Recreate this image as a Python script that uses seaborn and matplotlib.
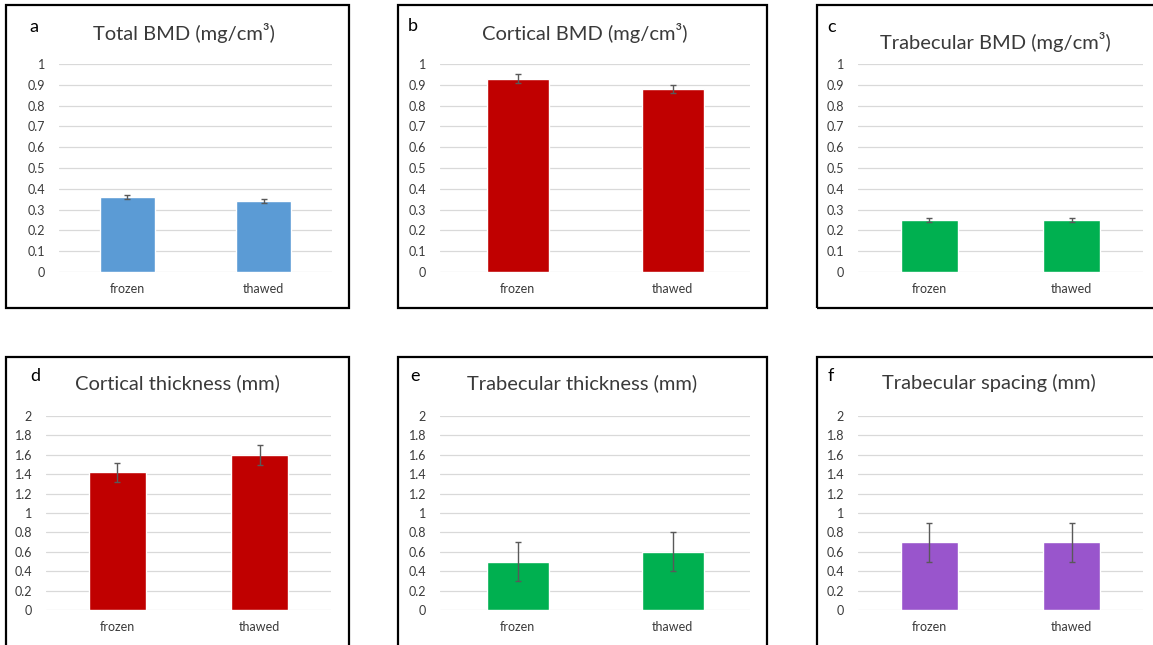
import numpy as np
import pandas as pd
import seaborn as sns
import matplotlib.pyplot as plt
from matplotlib.patches import Rectangle

# Data
groups = ['frozen', 'thawed']

total_bmd = [0.36, 0.34]
total_bmd_err = [0.01, 0.01]
cortical_bmd = [0.93, 0.88]
cortical_bmd_err = [0.02, 0.02]
trabecular_bmd = [0.25, 0.25]
trabecular_bmd_err = [0.01, 0.01]
cortical_thickness = [1.42, 1.60]
cortical_thickness_err = [0.10, 0.10]
trabecular_thickness = [0.50, 0.60]
trabecular_thickness_err = [0.20, 0.20]
trabecular_spacing = [0.70, 0.70]
trabecular_spacing_err = [0.20, 0.20]

bmd_ticks = [0, 0.1, 0.2, 0.3, 0.4, 0.5, 0.6, 0.7, 0.8, 0.9, 1]
mm_ticks = [0, 0.2, 0.4, 0.6, 0.8, 1, 1.2, 1.4, 1.6, 1.8, 2]

titles = ['Total BMD (mg/cm³)', 'Cortical BMD (mg/cm³)', 'Trabecular BMD (mg/cm³)',
          'Cortical thickness (mm)', 'Trabecular thickness (mm)', 'Trabecular spacing (mm)']
letters = ['a', 'b', 'c', 'd', 'e', 'f']

BLUE, RED, GREEN, PURPLE = '#5B9BD5', '#C00000', '#00B050', '#9955CC'

panels = [
    (total_bmd, total_bmd_err, BLUE, bmd_ticks),
    (cortical_bmd, cortical_bmd_err, RED, bmd_ticks),
    (trabecular_bmd, trabecular_bmd_err, GREEN, bmd_ticks),
    (cortical_thickness, cortical_thickness_err, RED, mm_ticks),
    (trabecular_thickness, trabecular_thickness_err, GREEN, mm_ticks),
    (trabecular_spacing, trabecular_spacing_err, PURPLE, mm_ticks),
]

# Layout in pixels of the 1153x645 image
W, H = 1153, 645
boxes = [(6, 5, 349, 308), (398, 5, 767, 308), (817, 5, 1170, 308),
         (6, 357, 349, 660), (398, 357, 767, 660), (817, 357, 1170, 660)]
plot_areas = [(59, 332, 64, 272), (440, 750, 64, 272), (858, 1143, 64, 272),
              (46, 331, 416, 610), (440, 750, 416, 610), (858, 1143, 416, 610)]
title_pos = [(184, 33), (585, 33), (995, 42), (177, 383), (582, 383), (989, 383)]
letter_pos = [(34, 27), (413, 26), (832, 27), (35, 376), (415, 376), (831, 376)]

sns.set_style('white')
plt.rcParams['font.family'] = ['Lato', 'DejaVu Sans']
TEXT = '#3A3A3A'

fig = plt.figure(figsize=(W / 100, H / 100), dpi=100)

for i, (vals, errs, color, ticks) in enumerate(panels):
    # panel frame
    bx0, by0, bx1, by1 = boxes[i]
    fig.patches.append(Rectangle((bx0 / W, 1 - by1 / H), (bx1 - bx0) / W, (by1 - by0) / H,
                                 transform=fig.transFigure, fill=False,
                                 edgecolor='black', linewidth=1.6, zorder=0))

    x0, x1, ytop, ybot = plot_areas[i]
    ax = fig.add_axes([x0 / W, 1 - ybot / H, (x1 - x0) / W, (ybot - ytop) / H])
    ax.patch.set_alpha(0)

    df = pd.DataFrame({'group': groups, 'value': vals})
    sns.barplot(data=df, x='group', y='value', color=color, width=0.4,
                saturation=1, errorbar=None, ax=ax, zorder=3)
    ax.errorbar(ax.get_xticks(), vals, yerr=errs, fmt='none', ecolor='#595959',
                elinewidth=1, capsize=2.5, capthick=1, zorder=4)

    ax.set_xlim(-0.5, 1.5)
    ax.set_ylim(ticks[0], ticks[-1])
    ax.set_yticks(ticks)
    ax.set_yticklabels([f'{t:g}' for t in ticks])
    ax.yaxis.grid(True, color='#D9D9D9', linewidth=0.9)
    ax.set_axisbelow(True)
    for s in ax.spines.values():
        s.set_visible(False)
    ax.tick_params(axis='both', length=0, labelsize=9, colors=TEXT)
    ax.tick_params(axis='x', pad=8)
    ax.tick_params(axis='y', pad=10)
    ax.set_xlabel('')
    ax.set_ylabel('')

    tx, ty = title_pos[i]
    fig.text(tx / W, 1 - ty / H, titles[i], ha='center', va='center',
             fontsize=14.5, color=TEXT)
    lx, ly = letter_pos[i]
    fig.text(lx / W, 1 - ly / H, letters[i], ha='center', va='center',
             fontsize=13, color='black')

fig.savefig('out.png', dpi=100)
